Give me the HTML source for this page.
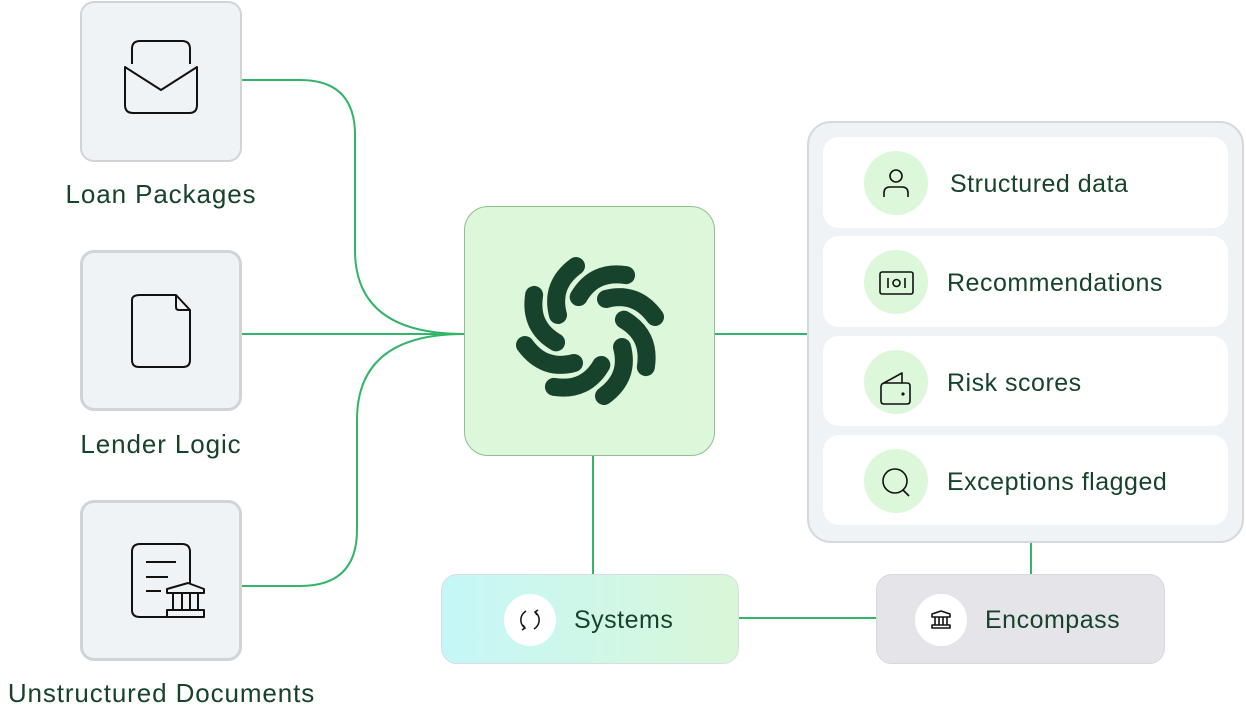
<!DOCTYPE html>
<html><head><meta charset="utf-8"><style>
html,body{margin:0;padding:0;background:#fff;}
body{width:1246px;height:713px;position:relative;overflow:hidden;font-family:"Liberation Sans",sans-serif;color:#17432c;}
.box{position:absolute;box-sizing:border-box;}
.src{background:#f0f3f6;border:2px solid #d0d4d9;border-radius:14px;width:162px;height:161px;left:80px;}
.lbl{position:absolute;font-size:26px;letter-spacing:0.9px;color:#17432c;text-align:center;white-space:nowrap;}
.item{position:absolute;left:823px;width:405px;background:#fff;border-radius:16px;}
.circ{position:absolute;left:41px;width:64px;height:64px;border-radius:50%;background:#dcf7d9;}
.itxt{position:absolute;left:124px;font-size:25px;letter-spacing:0.5px;white-space:nowrap;}
svg{position:absolute;}
</style></head><body>
<svg width="1246" height="713" style="left:0;top:0" fill="none" stroke="#34b46a" stroke-width="2">
<path d="M242 80 H300 Q355 80 355 135 V250 Q355 334 464 334"/>
<path d="M242 334 H464"/>
<path d="M242 586 H300 Q357 586 357 530 V420 Q357 334 464 334"/>
<path d="M715 334 H807"/>
<path d="M593 456 V574"/>
<path d="M739 618 H876"/>
<path d="M1031 543 V574"/>
</svg>

<div class="box src" style="top:1px"></div>
<div class="box src" style="top:250px;border-width:3px"></div>
<div class="box src" style="top:500px;border-width:3px"></div>
<div class="lbl" style="left:41px;top:179px;width:240px">Loan Packages</div>
<div class="lbl" style="left:41px;top:429px;width:240px">Lender Logic</div>
<div class="lbl" style="left:-20px;top:678px;width:363px">Unstructured Documents</div>

<svg width="162" height="161" style="left:80px;top:1px" fill="none" stroke="#111" stroke-width="2" stroke-linejoin="round">
<path d="M52 63 V48 Q52 40 60 40 H102 Q110 40 110 48 V63"/>
<path d="M45 66 V104 Q45 112 53 112 H109 Q117 112 117 104 V66 L81 89 Z"/>
</svg>
<svg width="162" height="161" style="left:80px;top:250px" fill="none" stroke="#111" stroke-width="2" stroke-linejoin="round">
<path d="M52 50 Q52 45 60 45 H96 L110 60 V110 Q110 117 103 117 H59 Q52 117 52 110 Z"/>
<path d="M96 45 V57 Q96 60 99 60 H110"/>
</svg>
<svg width="162" height="161" style="left:80px;top:500px" fill="none" stroke="#111" stroke-width="2" stroke-linejoin="round">
<path d="M87 117 H60 Q52 117 52 110 V52 Q52 44 60 44 H102 Q110 44 110 52 V83"/>
<path d="M66 62 H96 M66 77 H88 M66 91 H81"/>
<path d="M87 89 L108 83 L124 89 V93 H87 Z M87 110 H124 V117 H87 Z M93 93 V110 M102 93 V110 M110 93 V110 M118 93 V110"/>
</svg>

<div class="box" style="left:464px;top:206px;width:251px;height:250px;background:#dcf7d9;border:1.5px solid #8fbf90;border-radius:24px"></div>
<svg width="251" height="250" style="left:464px;top:206px">
<g transform="translate(126,125)" stroke="#17432c" stroke-width="18" stroke-linecap="round" fill="none">
<path id="b" d="M-14 -65 Q-40 -46 -32 -16"/>
<use href="#b" transform="rotate(45)"/><use href="#b" transform="rotate(90)"/><use href="#b" transform="rotate(135)"/>
<use href="#b" transform="rotate(180)"/><use href="#b" transform="rotate(225)"/><use href="#b" transform="rotate(270)"/><use href="#b" transform="rotate(315)"/>
</g></svg>

<div class="box" style="left:807px;top:121px;width:437px;height:422px;background:#f0f3f6;border:2px solid #d5d9de;border-radius:24px"></div>
<div class="item" style="top:137px;height:91px"><div class="circ" style="top:14px"></div><div class="itxt" style="top:33px;left:127px">Structured data</div></div>
<div class="item" style="top:236px;height:91px"><div class="circ" style="top:14px"></div><div class="itxt" style="top:33px">Recommendations</div></div>
<div class="item" style="top:336px;height:90px"><div class="circ" style="top:14px"></div><div class="itxt" style="top:33px">Risk scores</div></div>
<div class="item" style="top:435px;height:90px"><div class="circ" style="top:14px"></div><div class="itxt" style="top:33px">Exceptions flagged</div></div>
<svg width="64" height="400" style="left:864px;top:151px" fill="none" stroke="#111" stroke-width="1.6" stroke-linejoin="round">
<circle cx="32" cy="25" r="6"/><path d="M20 46 V42 Q20 36 26 36 H38 Q44 36 44 42 V46"/>
<rect x="16" y="121" width="33" height="22" rx="2"/><path d="M24 127 V137 M41 127 V137"/><circle cx="32.5" cy="132" r="3.5"/>
<path d="M17 236 Q17 232 21 232 H43 Q46 232 46 235 V250 Q46 253 43 253 H20 Q17 253 17 250 Z M18 233 L38 222 V232"/><circle cx="39" cy="243" r="0.8" fill="#111"/>
<circle cx="31" cy="330" r="12"/><path d="M39 339 L45 345"/>
</svg>

<div class="box" style="left:441px;top:574px;width:298px;height:90px;border-radius:16px;border:1.5px solid #d9dde2;background:linear-gradient(90deg,#c5f7f8,#d9f7d8)"></div>
<div class="box" style="left:504px;top:594px;width:52px;height:52px;border-radius:50%;background:#fff"></div>
<div class="lbl" style="left:574px;top:606px;font-size:25px;letter-spacing:0.5px">Systems</div>
<svg width="52" height="52" style="left:504px;top:594px" fill="none" stroke="#111" stroke-width="1.5">
<path d="M22 17 Q16 21 17 28 Q18 32 21 34 M30 35 Q36 31 35 24 Q34 20 31 18"/>
<path d="M19 31 L21 34 L18 36 M33 21 L31 18 L34 16"/>
</svg>

<div class="box" style="left:876px;top:574px;width:289px;height:90px;border-radius:16px;border:1.5px solid #d5d8de;background:#e4e4e9"></div>
<div class="box" style="left:915px;top:594px;width:52px;height:52px;border-radius:50%;background:#fff"></div>
<div class="lbl" style="left:985px;top:606px;font-size:25px;letter-spacing:0.5px">Encompass</div>
<svg width="52" height="52" style="left:915px;top:594px" fill="none" stroke="#111" stroke-width="1.6" stroke-linejoin="round">
<path d="M17 20 L26 17 L35 20 V23 H17 Z M17 31 H35 V34 H17 Z M20 23 V31 M24 23 V31 M28 23 V31 M32 23 V31"/>
</svg>
</body></html>
